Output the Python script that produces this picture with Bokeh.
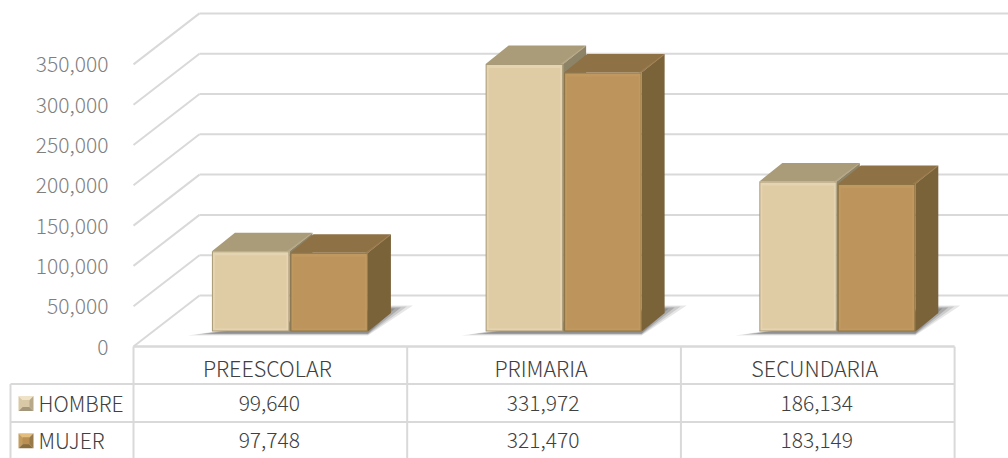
from bokeh.plotting import figure
from bokeh.models import Range1d, LinearAxis, FixedTicker, NumeralTickFormatter, ColumnDataSource
from bokeh.core.properties import value
from bokeh.embed import file_html
from bokeh.resources import INLINE

categories = ["PREESCOLAR", "PRIMARIA", "SECUNDARIA"]
series_names = ["HOMBRE", "MUJER"]
hombre = [99640, 331972, 186134]
mujer = [97748, 321470, 183149]
y_ticks = [0, 50000, 100000, 150000, 200000, 250000, 300000, 350000]

FONT = "Noto Sans CJK SC Light, Noto Sans CJK SC DemiLight, Open Sans Light, Open Sans"
GRID = "#d9d9d9"
PX_X = 1 / 273.7          # category units per pixel
PX_V = 50000 / 40.3       # value units per pixel
LEFT_PAGE, ZERO_PAGE = 133, 346

x_range = Range1d((0 - LEFT_PAGE) * PX_X, (1008 - LEFT_PAGE) * PX_X)
y_range = Range1d((ZERO_PAGE - 458) * PX_V, (ZERO_PAGE - 0) * PX_V)

p = figure(width=1008, height=458, x_range=x_range, y_range=y_range,
           x_axis_type=None, y_axis_type=None, toolbar_location=None,
           output_backend="svg", min_border=0, outline_line_color=None)
p.grid.visible = False
p.background_fill_color = "white"
p.border_fill_color = "white"

yax = LinearAxis(fixed_location=0, ticker=FixedTicker(ticks=y_ticks),
                 formatter=NumeralTickFormatter(format="0,0"))
yax.axis_line_color = None
yax.major_tick_line_color = None
yax.minor_tick_line_color = None
yax.major_label_text_font = FONT
yax.major_label_text_font_size = "21px"
yax.major_label_text_color = "#7f7f7f"
yax.major_label_standoff = 19
p.add_layout(yax, "left")

# walls and floor
wall_dx, wall_dv = 66 * PX_X, 51 * PX_V
for t in y_ticks:
    p.line([0, wall_dx], [t, t + wall_dv], line_color=GRID, line_width=2)
    p.line([wall_dx, 875 * PX_X], [t + wall_dv, t + wall_dv], line_color=GRID, line_width=2)

# data table rules
row_v = [0, -37.5 * PX_V, -75.5 * PX_V, -112 * PX_V]
tbl_left = -123 * PX_X
p.line([0, 3], [0, 0], line_color=GRID, line_width=2.5)
for v in row_v[1:3]:
    p.line([tbl_left, 3], [v, v], line_color=GRID, line_width=2)
for i in range(4):
    p.line([i, i], [0, row_v[3]], line_color=GRID, line_width=2)
p.line([tbl_left, tbl_left], [row_v[1], row_v[3]], line_color=GRID, line_width=2)

# table text
text_kw = dict(text_font=value(FONT), text_font_size="21px", text_align="center",
               text_baseline="middle", text_color="#404040")
mid = [(row_v[i] + row_v[i + 1]) / 2 - 1 * PX_V for i in range(3)]
tx = [i + 0.5 - 1 * PX_X for i in range(3)]
cx = [i + 0.5 - 3 * PX_X for i in range(3)]
p.text(cx, [mid[0] - 1 * PX_V] * 3, text=categories, **dict(text_kw, text_font_size="21.5px"))
p.text(tx, [mid[1] + 1 * PX_V] * 3, text=[f"{v:,}" for v in hombre], **text_kw)
p.text(tx, [mid[2] + 1 * PX_V] * 3, text=[f"{v:,}" for v in mujer], **text_kw)
name_kw = dict(text_kw, text_align="left")
p.text([-95 * PX_X] * 2, [mid[1] + 1 * PX_V, mid[2] + 1 * PX_V], text=series_names, **name_kw)

# 3-D bars
BAR_W = 77.5 * PX_X
GAP = 1 * PX_X
BAR_X0 = 0.2865
BASE = 15 * PX_V
DX, DV = 23 * PX_X, 18.5 * PX_V
I = 1 * PX_X
IV = 1 * PX_V

PAL = [
    dict(front="#dfcba4", hi="#e5d4b1", edge="#a99a78", top="#aa9b79", top_hi="#b9ab8a", side="#8d8367"),
    dict(front="#bc945c", hi="#c09960", edge="#8f7445", top="#8e7145", top_hi="#9e7f50", side="#7a6239"),
]

xs, ys, cs, als = [], [], [], []
def poly(x, y, c, a=1.0):
    xs.append(x); ys.append(y); cs.append(c); als.append(a)

# floor shadows
for i in range(3):
    x0 = i + BAR_X0
    x1 = x0 + 2 * BAR_W + GAP
    for k, a in ((0, 0.15), (1, 0.2), (2, 0.3), (3, 0.35)):
        poly([x0 - (24 - 7 * k) * I, x1, x1 + (45 - 6 * k) * I, x1 + DX],
             [BASE - (4 - 0.7 * k) * IV, BASE - (4 - 0.7 * k) * IV, BASE + (26 - k) * IV, BASE + (26 - k) * IV],
             "#5f5f5f", a)

def bar(x0, v, pal):
    x1 = x0 + BAR_W
    # side
    poly([x1, x1 + DX, x1 + DX, x1], [BASE, BASE + DV, BASE + v + DV, BASE + v], pal["side"])
    # top
    poly([x0, x0 + DX, x1 + DX, x1], [BASE + v, BASE + v + DV, BASE + v + DV, BASE + v], pal["top"])
    poly([x1 - 3 * I, x1 + DX - 2 * I, x1 + DX, x1],
         [BASE + v, BASE + v + DV - 1 * IV, BASE + v + DV - 1 * IV, BASE + v], pal["top_hi"], 0.7)
    # front bevels
    poly([x0, x1, x1, x0], [BASE, BASE, BASE + v, BASE + v], pal["edge"])
    poly([x0 + I, x1 - I, x1 - I, x0 + I], [BASE + IV, BASE + IV, BASE + v - IV, BASE + v - IV], pal["hi"])
    poly([x0 + 3 * I, x1 - 3 * I, x1 - 3 * I, x0 + 3 * I],
         [BASE + 3 * IV, BASE + 3 * IV, BASE + v - 4 * IV, BASE + v - 4 * IV], pal["front"])

for i in range(3):
    x0 = i + BAR_X0
    bar(x0, hombre[i], PAL[0])
    bar(x0 + BAR_W + GAP, mujer[i], PAL[1])

# legend keys
KEY = [dict(t="#efe2c6", l="#d9c8a4", r="#b7a987", b="#a3967a", c="#d8c8a6"),
       dict(t="#e3bd7c", l="#c49c5e", r="#987a48", b="#8a6d3d", c="#b98f54")]
for j, m in enumerate((mid[1] + 1 * PX_V, mid[2] + 1 * PX_V)):
    k = KEY[j]
    xa, xb = -115 * PX_X, -100 * PX_X
    va, vb = m - 8 * PX_V, m + 7 * PX_V
    xc, vc = (xa + xb) / 2, (va + vb) / 2
    poly([xa, xb, xc], [vb, vb, vc], k["t"])
    poly([xa, xa, xc], [va, vb, vc], k["l"])
    poly([xb, xb, xc], [va, vb, vc], k["r"])
    poly([xa, xb, xc], [va, va, vc], k["b"])
    d = 3.5 * PX_X; dv = 3.5 * PX_V
    poly([xc - d, xc + d, xc + d, xc - d], [vc - dv, vc - dv, vc + dv, vc + dv], k["c"])

src = ColumnDataSource(dict(xs=xs, ys=ys, c=cs, a=als))
p.patches("xs", "ys", source=src, fill_color="c", fill_alpha="a", line_color=None)

open("out.html", "w").write(file_html(p, INLINE))
